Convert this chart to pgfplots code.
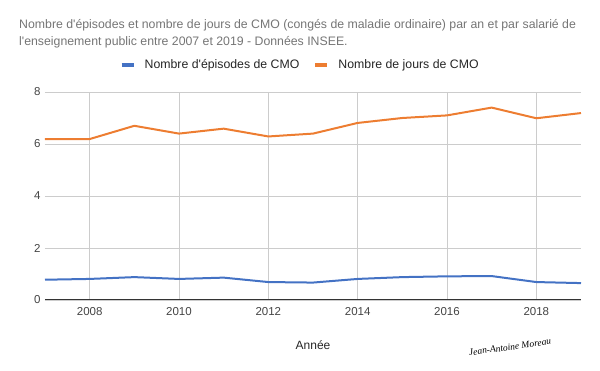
\documentclass[border=0pt]{standalone}
\usepackage{pgfplots}
\pgfplotsset{compat=1.18}
\usepackage{fontspec}
\setmainfont{Liberation Sans}
\newfontfamily\sigfont{Liberation Serif}
\definecolor{cblue}{HTML}{4472C4}
\definecolor{corange}{HTML}{ED7D31}
\definecolor{ctitle}{HTML}{757575}
\definecolor{cgrid}{HTML}{CCCCCC}
\definecolor{ctick}{HTML}{444444}
\begin{document}
\begin{tikzpicture}
\path[use as bounding box] (0pt,0pt) rectangle (600pt,371pt);
\node[anchor=west, align=left, text=ctitle, font=\fontsize{12.3}{16.5}\selectfont, inner sep=0pt] at (19pt,337pt)
  {Nombre d\textquotesingle épisodes et nombre de jours de CMO (congés de maladie ordinaire) par an et par salarié de\\l\textquotesingle enseignement public entre 2007 et 2019 - Données INSEE.};
\begin{axis}[
  at={(45pt,71pt)}, anchor=south west,
  scale only axis, width=536pt, height=208pt,
  xmin=2007, xmax=2019, ymin=0, ymax=8,
  xtick={2008,2010,...,2018}, ytick={0,2,...,8},
  /pgf/number format/1000 sep={},
  /pgf/number format/assume math mode=true,
  tick label style={font=\fontsize{11.5}{13}\selectfont, text=ctick},
  xticklabel style={yshift=-4pt},
  yticklabel style={xshift=-1pt},
  major tick length=0pt,
  grid=major, grid style={cgrid, line width=0.8pt},
  axis line style={draw=none},
  axis x line*=bottom,
  axis y line*=left,
  clip=false,
  legend style={at={(0.476,1.13)}, anchor=center, draw=none, legend columns=2,
    font=\fontsize{12.3}{14}\selectfont, text=black!85,
    /tikz/every odd column/.append style={column sep=7pt},
    /tikz/every even column/.append style={column sep=12pt}},
  legend image code/.code={\draw[#1, line width=4pt] (0pt,0pt) -- (12pt,0pt);},
]
\draw[black!80, line width=1pt] (axis cs:2007,0) -- (axis cs:2019,0);
\addplot[cblue, line width=2pt] coordinates {
(2007,0.78) (2008,0.81) (2009,0.88) (2010,0.81) (2011,0.86) (2012,0.69) (2013,0.67)
(2014,0.81) (2015,0.88) (2016,0.91) (2017,0.92) (2018,0.69) (2019,0.65)};
\addlegendentry{Nombre d\textquotesingle épisodes de CMO}
\addplot[corange, line width=2pt] coordinates {
(2007,6.19) (2008,6.19) (2009,6.70) (2010,6.40) (2011,6.59) (2012,6.29) (2013,6.40)
(2014,6.81) (2015,7.00) (2016,7.10) (2017,7.40) (2018,6.99) (2019,7.19)};
\addlegendentry{Nombre de jours de CMO}
\end{axis}
\node[font=\fontsize{12}{13}\selectfont, text=black!85] at (313pt,26pt) {Année};
\node[font=\sigfont\itshape\fontsize{9.5}{10}\selectfont, rotate=8] at (510pt,24pt) {Jean-Antoine Moreau};
\end{tikzpicture}
\end{document}
